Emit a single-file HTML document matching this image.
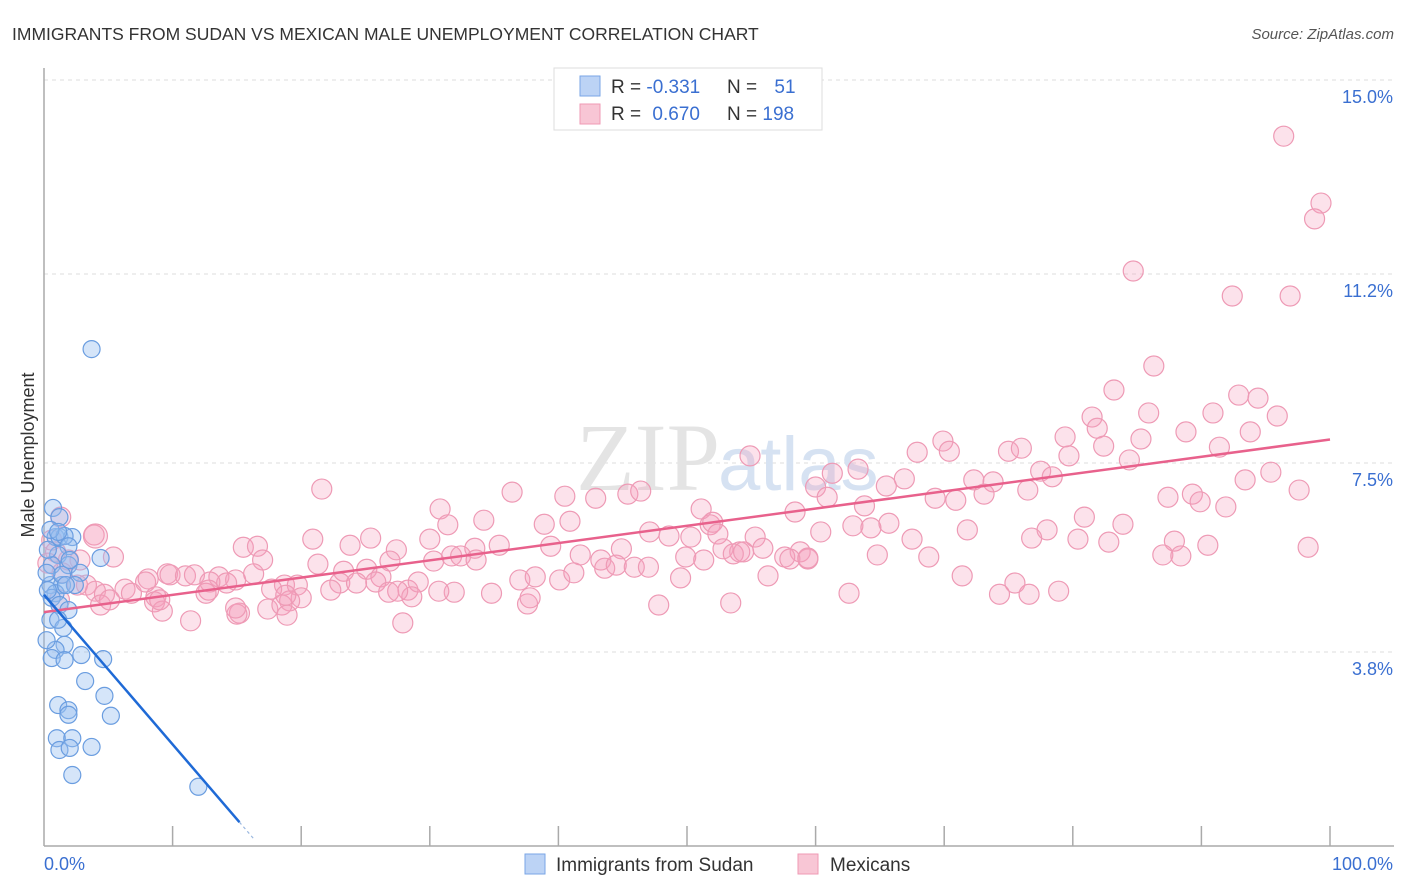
<!DOCTYPE html>
<html><head><meta charset="utf-8"><style>
body{margin:0;background:#fff;font-family:"Liberation Sans",sans-serif;}
#wrap{position:relative;width:1406px;height:892px;overflow:hidden}
</style></head><body>
<div id="wrap">
<svg id="svg" width="1406" height="892" xmlns="http://www.w3.org/2000/svg">
<text x="12" y="40" font-size="17.5" fill="#333">IMMIGRANTS FROM SUDAN VS MEXICAN MALE UNEMPLOYMENT CORRELATION CHART</text>
<text x="1394" y="39" font-size="15" fill="#555" font-style="italic" text-anchor="end">Source: ZipAtlas.com</text>
<text x="34" y="455" font-size="18" fill="#333" text-anchor="middle" transform="rotate(-90 34 455)">Male Unemployment</text>
<g id="grid"></g>
<text x="720" y="490" font-size="96" fill="#e4e4e4" text-anchor="end" font-family="Liberation Serif">ZIP</text>
<text x="718" y="490" font-size="76" fill="#d6e2f2">atlas</text>
<g id="pts"></g>
<g id="lines"></g>
<g>
<rect x="554" y="68" width="268" height="62" fill="#fff" stroke="#ddd"/>
<rect x="580" y="76" width="20" height="20" fill="#bcd3f5" stroke="#7aa6e6"/>
<rect x="580" y="104" width="20" height="20" fill="#f8c6d5" stroke="#ef9ab4"/>
<text x="611" y="93" font-size="19" fill="#333">R = <tspan fill="#3a6fd1">-0.331</tspan></text>
<text x="727" y="93" font-size="19" fill="#333">N = <tspan fill="#3a6fd1" dx="12">51</tspan></text>
<text x="611" y="120" font-size="19" fill="#333">R = <tspan fill="#3a6fd1" dx="6">0.670</tspan></text>
<text x="727" y="120" font-size="19" fill="#333">N = <tspan fill="#3a6fd1">198</tspan></text>
</g>
<g>
<rect x="525" y="854" width="20" height="20" fill="#bcd3f5" stroke="#7aa6e6"/>
<text x="556" y="871" font-size="19" fill="#333">Immigrants from Sudan</text>
<rect x="798" y="854" width="20" height="20" fill="#f8c6d5" stroke="#ef9ab4"/>
<text x="830" y="871" font-size="19" fill="#333">Mexicans</text>
</g>
</svg>
</div>
<script>
const yTicks=[3.8,7.5,11.2,15.0];
const yTickLabels=["3.8%","7.5%","11.2%","15.0%"];
const xTicks=[0,10,20,30,40,50,60,70,80,90,100];
const blueX=[3.7,0.7,1.2,0.9,1.2,2.2,1.6,1.9,1.1,4.4,0.6,1.9,2.8,0.5,1.4,0.9,0.6,1.2,1.9,0.5,1.5,1.6,0.9,2.9,0.6,1.6,4.6,3.2,1.1,1.9,1.9,4.7,5.2,1.0,2.2,1.2,2.0,3.7,2.2,12.0,0.3,0.5,1.4,0.2,0.3,2.0,2.4,1.1,0.2,1.7,1.1];
const blueY=[9.73,6.62,6.44,6.05,6.05,6.05,6.07,5.87,5.70,5.64,5.50,5.50,5.35,5.11,5.11,4.95,4.86,4.72,4.62,4.43,4.27,3.94,3.84,3.74,3.68,3.64,3.66,3.23,2.76,2.66,2.57,2.94,2.55,2.11,2.11,1.88,1.92,1.94,1.39,1.16,5.80,6.19,5.31,5.35,5.01,5.60,5.11,4.43,4.03,5.11,6.15];
const pinkX=[96.4,99.3,98.8,84.7,92.4,96.9,86.3,83.2,92.9,94.4,85.9,90.9,81.5,95.9,81.9,79.4,88.8,93.8,85.3,69.9,67.9,70.4,75.0,76.0,82.4,91.4,54.9,79.7,84.4,63.3,77.5,61.3,95.4,93.4,66.9,78.4,72.3,73.8,65.5,21.6,36.4,60.0,76.5,97.6,73.1,89.3,87.4,91.9,40.5,45.4,46.4,69.3,70.9,60.9,42.9,51.1,30.8,63.8,89.9,58.4,34.2,31.4,38.9,40.9,51.8,65.7,52.0,47.1,50.3,52.4,48.6,60.4,62.9,64.3,71.8,80.9,83.9,78.0,76.8,80.4,82.8,67.5,55.3,1.3,3.9,20.9,25.4,30.0,35.4,39.4,15.5,16.6,23.8,33.5,27.4,44.9,52.8,55.9,90.5,98.3,87.9,87.0,88.4,68.8,64.8,58.8,54.1,53.6,57.6,59.4,58.0,54.4,49.9,51.3,41.7,43.3,31.7,32.4,33.6,30.3,26.9,17.0,5.4,9.6,9.8,11.0,11.7,13.6,14.9,16.3,21.3,23.3,25.1,26.2,23.0,22.3,18.7,17.7,14.2,12.9,12.8,8.1,6.3,6.8,7.9,3.3,4.0,1.2,2.6,4.7,8.7,12.6,19.7,24.3,25.8,28.3,29.1,37.0,38.2,40.1,41.2,43.6,44.5,45.9,47.0,49.5,56.3,59.4,71.4,75.5,74.3,78.9,76.6,62.6,47.8,53.4,37.6,37.8,34.8,31.9,30.7,26.8,28.6,27.5,20.0,19.1,17.4,18.5,15.2,8.6,9.2,4.4,11.4,15.0,18.9,27.9,14.9,4.0,2.8,1.9,5.1,18.8,1.4,0.3,0.6,0.9,9.0];
const pinkY=[13.90,12.59,12.28,11.26,10.77,10.77,9.40,8.93,8.83,8.77,8.48,8.48,8.40,8.42,8.18,8.01,8.11,8.11,7.97,7.93,7.71,7.73,7.73,7.79,7.83,7.81,7.64,7.64,7.56,7.38,7.34,7.30,7.32,7.17,7.19,7.23,7.17,7.13,7.05,6.99,6.93,7.03,6.97,6.97,6.89,6.89,6.83,6.64,6.85,6.89,6.95,6.81,6.77,6.83,6.81,6.60,6.60,6.66,6.74,6.54,6.38,6.29,6.30,6.36,6.29,6.32,6.34,6.15,6.05,6.11,6.07,6.15,6.27,6.23,6.19,6.44,6.30,6.19,6.03,6.01,5.95,6.01,6.05,6.44,6.09,6.01,6.03,6.01,5.89,5.87,5.85,5.87,5.89,5.83,5.80,5.82,5.82,5.83,5.89,5.85,5.97,5.70,5.68,5.66,5.70,5.76,5.76,5.72,5.66,5.62,5.62,5.76,5.66,5.60,5.70,5.60,5.68,5.68,5.60,5.58,5.58,5.60,5.66,5.33,5.31,5.29,5.31,5.27,5.21,5.33,5.52,5.38,5.42,5.27,5.15,5.01,5.11,5.03,5.15,5.17,5.01,5.23,5.03,4.95,5.17,5.11,4.99,4.82,5.11,4.93,4.88,4.95,5.11,5.15,5.17,5.01,5.17,5.21,5.27,5.21,5.35,5.44,5.50,5.46,5.46,5.25,5.29,5.64,5.29,5.15,4.93,4.99,4.93,4.95,4.72,4.76,4.74,4.86,4.95,4.97,4.99,4.97,4.88,4.99,4.86,4.80,4.64,4.72,4.56,4.78,4.60,4.72,4.41,4.54,4.52,4.37,4.66,6.07,5.60,5.60,4.82,4.91,5.35,5.54,5.99,5.76,4.82];
const pinkFit=[4.58,7.96];   // value at x=0, x=100
const blueFit=[4.92,-0.293]; // intercept, slope
const NS="http://www.w3.org/2000/svg";
const X0=44,X1=1330,YB=846,YT=80;
const sx=v=>X0+(X1-X0)*v/100;
const sy=v=>YB-(YB-YT)*v/15;
function mk(tag,attrs,parent){const e=document.createElementNS(NS,tag);for(const k in attrs)e.setAttribute(k,attrs[k]);parent.appendChild(e);return e;}
const grid=document.getElementById('grid');
yTicks.forEach((t,i)=>{
 const l=mk('line',{x1:X0,x2:1394,y1:sy(t),y2:sy(t),stroke:'#ddd','stroke-dasharray':'4 4'},grid);
 
 
 const tx=mk('text',{x:1393,y:sy(t)+23,'font-size':18,fill:'#3a6fd1','text-anchor':'end'},grid);
 tx.textContent=yTickLabels[i];
 
 
});
const ax=mk('line',{x1:X0,x2:X0,y1:68,y2:YB,stroke:'#aaa','stroke-width':1.5},grid);


const bx=mk('line',{x1:X0,x2:1394,y1:YB,y2:YB,stroke:'#aaa','stroke-width':1.5},grid);


xTicks.forEach(t=>{if(t===0)return;
 const l=mk('line',{x1:sx(t),x2:sx(t),y1:YB-20,y2:YB,stroke:'#aaa','stroke-width':1.5},grid);
 
 
});
let t0=mk('text',{x:44,y:870,'font-size':18,fill:'#3a6fd1'},grid);t0.textContent='0.0%';


let t1=mk('text',{x:1393,y:870,'font-size':18,fill:'#3a6fd1','text-anchor':'end'},grid);t1.textContent='100.0%';


const pts=document.getElementById('pts');
pinkX.forEach((x,i)=>{
 const c=mk('circle',{cx:sx(x),cy:sy(pinkY[i]),r:(i===197||i===0&&false)?12:10,fill:'rgba(244,160,188,0.3)',stroke:'#ee9ab5','stroke-width':1.2},pts);
 
 
});
blueX.forEach((x,i)=>{
 const c=mk('circle',{cx:sx(x),cy:sy(blueY[i]),r:8.5,fill:'rgba(150,190,240,0.4)',stroke:'#6a9de0','stroke-width':1.2},pts);
 
 
});
const lines=document.getElementById('lines');
const pl=mk('line',{x1:sx(0),y1:sy(pinkFit[0]),x2:sx(100),y2:sy(pinkFit[1]),stroke:'#e8618c','stroke-width':2.5},lines);


const bEnd=15.2,bDash=16.4;
const bl=mk('line',{x1:sx(0),y1:sy(blueFit[0]),x2:sx(bEnd),y2:sy(blueFit[0]+blueFit[1]*bEnd),stroke:'#1f6ad6','stroke-width':2.5},lines);


const bd=mk('line',{x1:sx(bEnd),y1:sy(blueFit[0]+blueFit[1]*bEnd),x2:sx(bDash),y2:sy(blueFit[0]+blueFit[1]*bDash),stroke:'#9bb8e0','stroke-width':1.2,'stroke-dasharray':'3 3'},lines);


</script>
</body></html>
